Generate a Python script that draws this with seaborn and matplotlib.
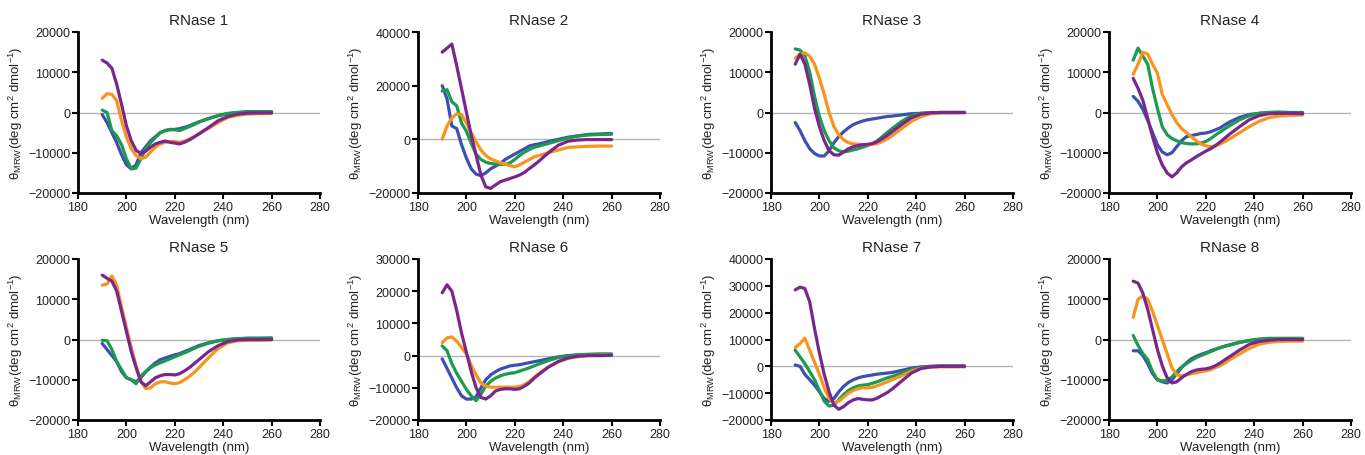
import numpy as np
import pandas as pd
import matplotlib
matplotlib.use("Agg")
import matplotlib.pyplot as plt
import seaborn as sns

# ---------------- data ----------------
wavelength = [190, 192, 194, 196, 198, 200, 202, 204, 206, 208, 210, 212, 214, 216,
              218, 220, 222, 224, 226, 228, 230, 234, 238, 242, 246, 250, 255, 260]

panel_titles = ["RNase 1", "RNase 2", "RNase 3", "RNase 4",
                "RNase 5", "RNase 6", "RNase 7", "RNase 8"]
series_names = ["blue", "green", "orange", "purple"]

rnase1_blue = [-500, -2500, -5000, -7500, -10500, -13000, -14000, -13000, -10000, -8500, -7000, -6000, -5000, -4500,
               -4200, -4200, -4000, -3700, -3300, -2800, -2300, -1500, -800, -300, 0, 200, 200, 200]
rnase1_green = [600, 0, -4500, -5800, -8000, -11500, -14000, -13800, -11500, -9000, -7500, -6200, -5000, -4500,
                -4300, -4300, -4500, -4000, -3500, -3000, -2400, -1500, -700, -200, 0, 100, 200, 150]
rnase1_orange = [3500, 4700, 4500, 2900, -2000, -6100, -9000, -10700, -11500, -11100, -9800, -8600, -7800, -7400,
                 -7200, -7200, -7400, -7100, -6600, -6000, -5300, -3900, -2500, -1200, -700, -400, -300, -250]
rnase1_purple = [13000, 12300, 11000, 7000, 2000, -3300, -7000, -9400, -10200, -9600, -8600, -7800, -7400, -7100,
                 -7400, -7600, -7800, -7400, -6800, -6100, -5300, -3700, -2000, -1000, -400, -150, -100, -100]

rnase2_blue = [20000, 15000, 5000, 4000, -2000, -7000, -11000, -13000, -13500, -12500, -11000, -10000, -9000, -7500,
               -6500, -5500, -4500, -3500, -2500, -2000, -1700, -800, 0, 800, 1300, 1800, 2000, 2200]
rnase2_green = [18000, 18500, 14000, 12500, 6000, 3000, -1500, -5500, -7500, -8500, -9000, -9200, -9300, -9300,
                -8800, -7500, -6000, -4800, -3800, -3000, -2500, -1500, -500, 500, 1200, 1600, 1800, 1900]
rnase2_orange = [0, 5000, 8000, 9500, 9200, 6000, 2500, -1000, -4000, -6000, -7300, -8000, -8700, -9200,
                 -9800, -10200, -9500, -8500, -7500, -6500, -6000, -5000, -4000, -3000, -2800, -2600, -2500, -2500]
rnase2_purple = [32500, 34000, 35500, 27400, 18800, 10100, 1500, -5900, -13300, -17700, -18300, -17000, -15800, -15200,
                 -14600, -14000, -13300, -12300, -10900, -9600, -8100, -4900, -2200, -700, -250, -100, -100, -100]

rnase3_blue = [-2500, -4500, -7000, -9000, -10200, -10800, -10800, -9500, -7500, -6000, -4800, -3800, -3000, -2500,
               -2100, -1800, -1600, -1400, -1200, -1000, -900, -600, -300, -200, -100, 0, 0, 0]
rnase3_green = [15800, 15500, 14000, 10000, 4000, -1000, -4500, -7000, -8800, -9500, -9800, -9600, -9300, -9000,
                -8600, -8200, -7700, -7000, -6000, -5000, -4000, -2200, -800, -200, 0, 0, 0, 0]
rnase3_orange = [13500, 14500, 14800, 14000, 12000, 8500, 4500, 0, -3500, -5500, -6800, -7500, -7800, -7900,
                 -8000, -8000, -7900, -7700, -7200, -6600, -5800, -4000, -2200, -1000, -300, -100, 0, 0]
rnase3_purple = [12000, 14500, 12000, 7000, 1000, -3500, -7000, -9500, -10500, -10600, -9800, -9000, -8500, -8200,
                 -8000, -7900, -7700, -7200, -6500, -5700, -4800, -3000, -1300, -400, -100, 0, 0, 0]

rnase4_blue = [4000, 2800, 800, -2000, -5000, -8000, -9800, -10500, -10000, -8500, -7000, -6000, -5700, -5500,
               -5200, -5100, -4800, -4300, -3800, -3000, -2300, -1200, -500, -200, 0, 100, 0, 0]
rnase4_green = [13000, 16000, 14000, 12000, 6000, 1000, -3500, -5500, -6500, -7000, -7500, -7700, -7800, -7800,
                -7600, -7200, -6500, -5600, -4800, -4000, -3200, -1800, -800, -200, 0, 0, -100, -200]
rnase4_orange = [9500, 12000, 15000, 14500, 12000, 9800, 4500, 2000, -500, -2500, -4000, -5000, -6000, -7000,
                 -7800, -8300, -8500, -8300, -7800, -7200, -6500, -5000, -3500, -2200, -1300, -900, -700, -600]
rnase4_purple = [8500, 6000, 3000, -1500, -6000, -10000, -13000, -15000, -16000, -15000, -13500, -12500, -11800, -11000,
                 -10300, -9600, -9000, -8200, -7300, -6300, -5300, -3500, -1800, -800, -300, -200, -200, -300]

rnase5_blue = [-1000, -2500, -4000, -5500, -8000, -9500, -10000, -10500, -9500, -8000, -6800, -5800, -5000, -4600,
               -4200, -3800, -3500, -3000, -2500, -2000, -1500, -800, -300, 0, 200, 300, 300, 300]
rnase5_green = [-200, -300, -2500, -5500, -7500, -9500, -10000, -11000, -9000, -8000, -7000, -6300, -5800, -5300,
                -4800, -4300, -3800, -3300, -2800, -2200, -1700, -900, -300, 0, 200, 300, 300, 400]
rnase5_orange = [13500, 13800, 15800, 13500, 8000, 3000, -2000, -6500, -10500, -12200, -12000, -11000, -10500, -10500,
                 -10800, -11000, -10700, -10000, -9200, -8200, -7000, -4500, -2200, -800, -300, -200, -200, -100]
rnase5_purple = [16000, 15200, 14500, 12000, 7000, 2000, -3000, -7000, -10500, -11500, -10500, -9500, -9000, -8700,
                 -8700, -8800, -8500, -7800, -7000, -6000, -5000, -3000, -1500, -500, -100, 0, 0, 0]

rnase6_blue = [-1000, -4000, -7000, -10000, -12500, -13500, -13500, -12800, -10000, -7500, -6000, -5000, -4200, -3700,
               -3200, -3000, -2800, -2500, -2200, -1900, -1600, -1000, -400, 0, 200, 300, 400, 400]
rnase6_green = [3000, 1500, -2500, -5500, -8000, -10500, -12500, -14000, -12000, -9500, -8000, -7000, -6300, -5800,
                -5500, -5300, -4800, -4300, -3800, -3200, -2600, -1500, -600, -100, 200, 400, 500, 500]
rnase6_orange = [4000, 5500, 5800, 4500, 2500, 500, -3000, -6000, -8500, -9500, -9800, -9800, -9800, -9800,
                 -9800, -9800, -9600, -9000, -8000, -6800, -5500, -3500, -2000, -900, -300, 0, 100, 100]
rnase6_purple = [19500, 22000, 20000, 14000, 7000, 1000, -5000, -10000, -13000, -13500, -12500, -11000, -10500, -10300,
                 -10300, -10500, -10300, -9500, -8500, -7000, -5800, -3500, -1800, -700, -200, 0, 0, 100]

rnase7_blue = [500, 0, -3000, -5000, -7000, -9500, -12000, -13000, -12000, -9500, -7500, -6000, -5000, -4300,
               -3800, -3500, -3200, -2900, -2700, -2500, -2300, -1500, -700, -200, 0, 100, 100, 100]
rnase7_green = [6000, 3500, 1000, -2000, -5000, -9000, -13000, -14800, -14500, -12500, -10500, -9000, -8000, -7300,
                -7000, -6800, -6300, -5700, -5000, -4300, -3800, -2500, -1200, -400, 0, 100, 100, 100]
rnase7_orange = [7000, 8500, 10500, 6000, 1500, -3000, -8000, -12000, -13500, -13000, -11500, -10000, -9000, -8300,
                 -8000, -8000, -7800, -7200, -6500, -5800, -5000, -3500, -1800, -700, -300, -200, -200, -200]
rnase7_purple = [28500, 29500, 29000, 24000, 14000, 5000, -3000, -9500, -14500, -16000, -15000, -13500, -12500, -12000,
                 -12300, -12500, -12500, -11800, -10800, -9800, -8500, -5500, -2500, -800, -200, 0, 0, 0]

rnase8_blue = [-2800, -2800, -4000, -6000, -8500, -10000, -10500, -10800, -10000, -8500, -7000, -5800, -4800, -4200,
               -3700, -3300, -2800, -2400, -2000, -1600, -1300, -700, -300, 0, 200, 200, 200, 200]
rnase8_green = [1000, -1500, -3500, -5000, -8000, -10000, -10300, -10200, -9300, -8000, -6800, -6000, -5200, -4500,
                -4000, -3500, -3000, -2500, -2000, -1700, -1400, -700, -200, 100, 300, 300, 300, 300]
rnase8_orange = [5500, 10000, 10800, 10000, 7000, 3500, 0, -3500, -7000, -8800, -9000, -8800, -8500, -8300,
                 -8000, -7800, -7500, -7000, -6500, -5800, -5000, -3600, -2200, -1200, -700, -500, -400, -400]
rnase8_purple = [14500, 14000, 11500, 7500, 2500, -2500, -6500, -9500, -10800, -10500, -9500, -8700, -8000, -7600,
                 -7400, -7300, -7000, -6500, -5800, -5000, -4200, -2600, -1200, -500, -200, 0, 0, 0]

y_limits = [(-20000, 20000), (-20000, 40000), (-20000, 20000), (-20000, 20000),
            (-20000, 20000), (-20000, 30000), (-20000, 40000), (-20000, 20000)]
y_steps = [10000, 20000, 10000, 10000, 10000, 10000, 10000, 10000]

palette = {"blue": "#3d50b2", "green": "#1c9a4e", "orange": "#f7941d", "purple": "#7a278c"}

panel_series = [
    [rnase1_blue, rnase1_green, rnase1_orange, rnase1_purple],
    [rnase2_blue, rnase2_green, rnase2_orange, rnase2_purple],
    [rnase3_blue, rnase3_green, rnase3_orange, rnase3_purple],
    [rnase4_blue, rnase4_green, rnase4_orange, rnase4_purple],
    [rnase5_blue, rnase5_green, rnase5_orange, rnase5_purple],
    [rnase6_blue, rnase6_green, rnase6_orange, rnase6_purple],
    [rnase7_blue, rnase7_green, rnase7_orange, rnase7_purple],
    [rnase8_blue, rnase8_green, rnase8_orange, rnase8_purple],
]

rows = []
for title, series in zip(panel_titles, panel_series):
    for name, vals in zip(series_names, series):
        for w, v in zip(wavelength, vals):
            rows.append({"panel": title, "series": name, "wavelength": w, "theta": v})
df = pd.DataFrame(rows)

# ---------------- style ----------------
sns.set_theme(style="ticks")
plt.rcParams["font.family"] = ["Liberation Sans", "DejaVu Sans"]
plt.rcParams["mathtext.fontset"] = "custom"
plt.rcParams["mathtext.rm"] = "Liberation Sans"
plt.rcParams["mathtext.it"] = "Liberation Sans:italic"
plt.rcParams["mathtext.bf"] = "Liberation Sans:bold"

W, H = 1365, 456
fig = plt.figure(figsize=(W / 100, H / 100), dpi=100)

lefts = [78, 418, 771, 1109]
tops = [33, 260]
ax_w, ax_h = 242, 161

ylabel = "θ$_{\\mathrm{MRW}}$(deg cm$^{2}$ dmol$^{-1}$)"

for i, title in enumerate(panel_titles):
    r, c = divmod(i, 4)
    ax = fig.add_axes([lefts[c] / W, 1 - (tops[r] + ax_h) / H, ax_w / W, ax_h / H])
    ax.axhline(0, color="#b5b5b5", lw=1.0, zorder=0)
    sub = df[df["panel"] == title]
    sns.lineplot(data=sub, x="wavelength", y="theta", hue="series", hue_order=series_names,
                 palette=palette, linewidth=2.3, legend=False, ax=ax, sort=False)
    ax.set_xlim(180, 280)
    lo, hi = y_limits[i]
    ax.set_ylim(lo, hi)
    ax.set_xticks(np.arange(180, 281, 20))
    ax.set_yticks(np.arange(lo, hi + 1, y_steps[i]))
    ax.tick_params(axis="both", direction="out", length=4, width=1.5, color="black",
                   labelsize=9, labelcolor="#222222", pad=1.5)
    for s in ("top", "right"):
        ax.spines[s].set_visible(False)
    for s in ("left", "bottom"):
        ax.spines[s].set_linewidth(2.0)
        ax.spines[s].set_color("black")
    ax.set_title(title, fontsize=11, color="#222222", pad=6)
    ax.set_xlabel("Wavelength (nm)", fontsize=9.5, color="#222222", labelpad=1)
    ax.set_ylabel(ylabel, fontsize=9.5, color="#222222", labelpad=2)

fig.savefig("out.png", dpi=100)
